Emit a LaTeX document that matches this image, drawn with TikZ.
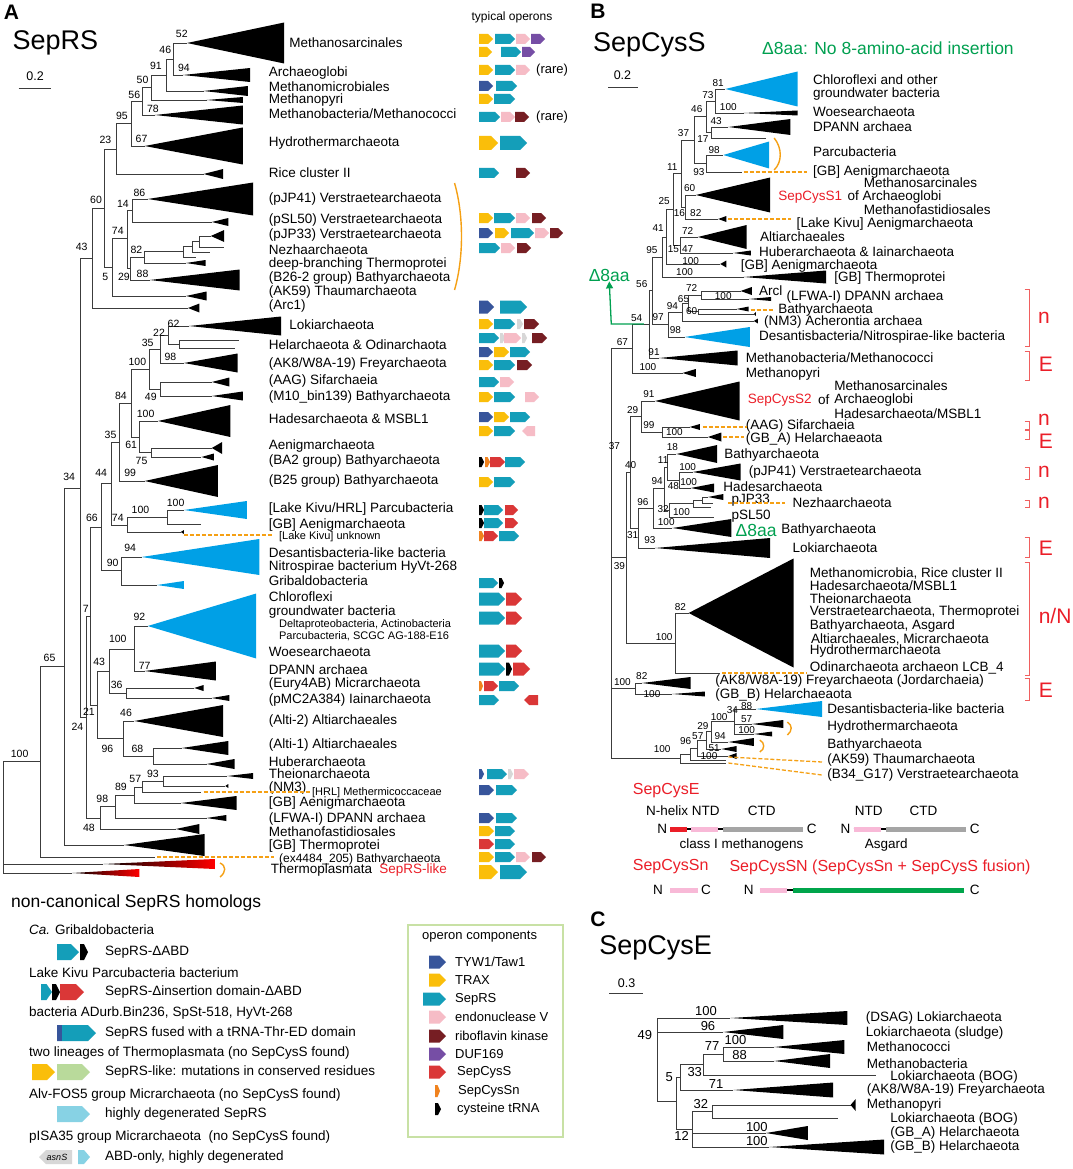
\documentclass[tikz,border=0pt]{standalone}
\usepackage{fontspec}
\setmainfont{Liberation Sans}
\usetikzlibrary{arrows.meta}

\definecolor{treeline}{RGB}{60,60,60}
\definecolor{cladeblue}{RGB}{0,160,230}
\definecolor{tyw}{RGB}{55,85,155}
\definecolor{trax}{RGB}{250,190,10}
\definecolor{seprs}{RGB}{20,158,185}
\definecolor{endo}{RGB}{246,188,198}
\definecolor{ribo}{RGB}{118,30,35}
\definecolor{duf}{RGB}{118,78,165}
\definecolor{sepcyss}{RGB}{218,55,55}
\definecolor{sepcyssn}{RGB}{240,130,30}
\definecolor{trna}{RGB}{0,0,0}
\definecolor{gengray}{RGB}{215,215,215}
\definecolor{ltteal}{RGB}{135,210,228}
\definecolor{ltgreen}{RGB}{185,218,155}
\definecolor{orangeline}{RGB}{245,160,20}
\definecolor{labred}{RGB}{235,30,40}
\definecolor{brred}{RGB}{240,95,95}
\definecolor{labgreen}{RGB}{0,160,80}
\definecolor{boxgreen}{RGB}{200,225,165}
\definecolor{domgray}{RGB}{165,165,165}
\definecolor{dompink}{RGB}{248,185,215}
\definecolor{domgreen}{RGB}{0,165,75}

% gene arrows: colour, x, y, length, half height
\newcommand\gene[5]{%
  \pgfmathsetmacro\gtip{min(#5,#4*0.5)}%
  \fill[#1] (#2,#3-#5) -- ({#2+#4-\gtip},#3-#5) -- ({#2+#4},#3)
    -- ({#2+#4-\gtip},#3+#5) -- (#2,#3+#5) -- cycle;}
\newcommand\rgene[5]{%
  \pgfmathsetmacro\gtip{min(#5,#4*0.5)}%
  \fill[#1] ({#2+#4},#3-#5) -- ({#2+\gtip},#3-#5) -- (#2,#3)
    -- ({#2+\gtip},#3+#5) -- ({#2+#4},#3+#5) -- cycle;}
\newcommand\oprow[3]{\foreach \gc/\gx/\gw in {#3} {\gene{\gc}{\gx}{#1}{\gw}{#2}}}

\tikzset{
  branch/.style={draw=treeline, line width=0.9pt},
  leaflbl/.style={anchor=west, inner sep=0pt, font=\fontsize{13.5}{15}\selectfont},
  smalllbl/.style={anchor=west, inner sep=0pt, font=\fontsize{11}{12}\selectfont},
  boota/.style={inner sep=0pt, font=\fontsize{10.5}{11}\selectfont},
  bootb/.style={inner sep=0pt, font=\fontsize{10}{11}\selectfont},
  bootc/.style={inner sep=0pt, font=\fontsize{13}{14}\selectfont},
  bigtitle/.style={anchor=west, inner sep=0pt, font=\fontsize{27}{30}\selectfont},
  panelltr/.style={inner sep=0pt, font=\fontsize{21}{22}\selectfont\bfseries},
  orangedash/.style={draw=orangeline, line width=1.3pt, dash pattern=on 4pt off 2pt},
  orangearc/.style={draw=orangeline, line width=1.4pt},
  redbrk/.style={draw=brred, line width=1pt},
  redlet/.style={text=labred, inner sep=0pt, font=\fontsize{21}{22}\selectfont},
  redhead/.style={anchor=west, text=labred, inner sep=0pt, font=\fontsize{16}{17}\selectfont},
  dombar/.style={line width=5pt},
}

\begin{document}
\begin{tikzpicture}[x=1pt, y=-1pt]
\useasboundingbox (0,0) rectangle (1072,1169);
\fill[white] (0,0) rectangle (1072,1169);

%%%%%%%%%%%%%%%% panel A: SepRS tree
\begin{scope}[xscale=1.033]
\node[panelltr] (pa) at (11,12) {A};
\node[bigtitle] (ta) at (12,43) {SepRS};
\node[inner sep=0pt, font=\fontsize{12.5}{13}\selectfont] (sa) at (34,76) {0.2};
\draw[line width=1pt, treeline] (18,89) -- (49,89);

\foreach \nm/\x/\y in {aRoot/3/817, a100/39/761, a65/62/666, a34/78/488, a43/89/258,
  a60/101/208, a23/113/149, a95/127/123, a56/138/101, a50/147/87, a91/161/75, a46/168/59,
  aMsar/181/43, aArch/177/75, aMmic/197/91, aMpyri/200/100, aMbac/150/115, aHydro/140/146,
  aRice/197/174, a5/109/267, a74/123/238, a14/128/210, aPJ41/143/199, aPSL/205/222,
  a29/126/268, a82/140/257, aN1/178/251, aN2/186/246, aN3/193/241, aPJ33/204/236,
  aN3l/217/247, aN2l/203/252, aN1l/190/257, aDeep/180/263, aB26/145/280, aAK59/180/296,
  aArc1/182/308, a21/84/717, a7/88/616, a66/98/527, a44/108/483, a35b/116/442, a84/127/403,
  a100c/145/369, aL35/155/349, aL22/163/335, aLoki/183/326, aHO/174/344, aHOa/231/340,
  aHOb/227/348, aFrey/178/363, a49/155/389, aSif/205/382, aM10/205/396, aH/135/437,
  aHades/153/421, a61/147/452, aAenig/205/448, aBA2/195/457, aB25/140/481, a74b/123/525,
  a100a/162/517, aLKH/178/510, aGBA/195/524, aLK/175/532, a90/118/570, aDes/137/557,
  aGrib/152/585, a94x/94/705, a43b/106/671, a100b/130/649, aChl/143/626, aDP/140/671,
  a36/122/693, aEury/188/688, aPMC/205/698, a96/119/738, aAlti2/130/721, a68/149/756,
  aAlti1/176/748, aHuber/200/764, a48/97/818, a98/112/806, a89/130/795, a57/138/787,
  a93/158/781, aTheio/220/776, aNM3/218/786, aHRL/195/792, aGBAe/175/803, aLFWA/200/818,
  aMfast/170/829, aGBT/120/845, aEx/150/857, aRed1/100/864, aRed2/70/873}
  \coordinate (\nm) at (\x,\y);

\foreach \p/\c in {aRoot/a100, aRoot/aRed1, aRoot/aRed2, a100/a65, a100/aEx, a65/a34,
  a65/aGBT, a34/a43, a34/a21, a43/a60, a43/aArc1, a60/a23, a60/a5, a23/a95, a23/aRice,
  a95/a56, a95/aHydro, a56/a50, a56/aMbac, a50/a91, a50/aMpyri, a91/a46, a91/aMmic,
  a46/aMsar, a46/aArch, a5/a74, a5/aAK59, a74/a14, a74/a29, a14/aPJ41, a14/aPSL,
  a29/a82, a29/aB26, a82/aN1, a82/aDeep, aN1/aN2, aN1/aN1l, aN2/aN3, aN2/aN2l,
  aN3/aPJ33, aN3/aN3l, a21/a7, a21/a48, a7/a66, a7/a94x, a66/a44, a66/a90, a44/a35b,
  a44/a74b, a35b/a84, a35b/aB25, a84/a100c, a84/aH, a100c/aL35, a100c/a49, aL35/aL22,
  aL35/aFrey, aL22/aLoki, aL22/aHO, aHO/aHOa, aHO/aHOb, a49/aSif, a49/aM10, aH/aHades,
  aH/a61, a61/aAenig, a61/aBA2, a74b/a100a, a74b/aLK, a100a/aLKH, a100a/aGBA, a90/aDes,
  a90/aGrib, a94x/a43b, a94x/a96, a43b/a100b, a43b/a36, a100b/aChl, a100b/aDP,
  a36/aEury, a36/aPMC, a96/aAlti2, a96/a68, a68/aAlti1, a68/aHuber, a48/a98, a48/aMfast,
  a98/a89, a98/aLFWA, a89/a57, a89/aGBAe, a57/a93, a57/aHRL, a93/aTheio, a93/aNM3}
  \draw[branch] (\p) |- (\c);

% collapsed clades
\foreach \nm/\l/\h in {aMsar/94/20.5, aArch/65/7, aMmic/43/5, aMpyri/35/3, aMbac/85/9.5,
  aHydro/95/18.5, aRice/19/5, aPJ41/102/16.5, aPSL/16/4, aPJ33/13/6, aB26/87/10.5,
  aAK59/20/4.5, aArc1/11/4.5, aDeep/19/3, aLoki/89/9.5, aFrey/52/9.5, aSif/17/4.5,
  aM10/30/4.5, aHades/70/16, aAenig/10/6, aBA2/12/3.5, aB25/71/16, aLK/3/2, aDP/69/9.5,
  aEury/9/3, aPMC/17/3, aAlti2/86/16, aAlti1/45/7, aHuber/27/5, aTheio/25/3, aNM3/3/2,
  aGBAe/54/7, aLFWA/19/3, aMfast/23/5, aGBT/78/11}
  \fill (\nm) -- ++(\l,-\h) -- ++(0,2*\h) -- cycle;
\foreach \nm/\l/\h in {aLKH/61/9, aDes/114/18, aGrib/26/4, aChl/105/32.5}
  \fill[cladeblue] (\nm) -- ++(\l,-\h) -- ++(0,2*\h) -- cycle;
\shade[left color=black, right color=red] (aRed1) -- ++(108,-5) -- ++(0,10) -- cycle;
\shade[left color=black, right color=red] (aRed2) -- ++(65,-4) -- ++(0,8) -- cycle;

\foreach \bx/\by/\bt [count=\i] in {176/34/52, 160/50/46, 178/68/94, 151/66/91, 138/80/50,
  130/95/56, 148/109/78, 118/116/95, 137/139/67, 102/140/23, 93/200/60, 135/193/86,
  119/204/14, 114/231/74, 132/250/82, 102/277/5, 120/277/29, 138/274/88, 79/247/43,
  67/477/34, 98/473/44, 107/435/35, 117/396/84, 133/362/100, 143/343/35, 154/333/22,
  168/324/62, 165/357/98, 146/397/49, 141/414/100, 127/445/61, 137/461/75, 126/473/99,
  89/518/66, 114/518/74, 136/510/100, 170/503/100, 126/548/94, 109/563/90, 83/609/7,
  135/617/92, 114/639/100, 96/662/43, 140/666/77, 113/685/36, 86/712/21, 122/713/46,
  75/727/24, 104/749/96, 133/749/68, 131/779/57, 148/774/93, 117/787/89, 99/799/98,
  86/828/48, 48/658/65, 19/754/100}
  \node[boota] (ba\i) at (\bx,\by) {\bt};

\foreach \lx/\ly/\lt [count=\i] in {280/43/{Methanosarcinales}, 260/73/{Archaeoglobi},
  260/87/{Methanomicrobiales}, 260/100/{Methanopyri}, 260/114/{Methanobacteria/Methanococci},
  260/143/{Hydrothermarchaeota}, 260/173/{Rice cluster II}, 260/199/{(pJP41) Verstraetearchaeota},
  260/220/{(pSL50) Verstraetearchaeota}, 260/235/{(pJP33) Verstraetearchaeota},
  260/250/{Nezhaarchaeota}, 260/264/{deep-branching Thermoprotei},
  260/278/{(B26-2 group) Bathyarchaeota}, 260/292/{(AK59) Thaumarchaeota}, 260/306/{(Arc1)},
  280/325/{Lokiarchaeota}, 260/345/{Helarchaeota \& Odinarchaota},
  260/364/{(AK8/W8A-19) Freyarchaeota}, 260/381/{(AAG) Sifarchaeia},
  260/397/{(M10\_bin139) Bathyarchaeota}, 260/419/{Hadesarchaeota \& MSBL1},
  260/446/{Aenigmarchaeota}, 260/461/{(BA2 group) Bathyarchaeota},
  260/481/{(B25 group) Bathyarchaeota}, 260/509/{[Lake Kivu/HRL] Parcubacteria},
  260/525/{[GB] Aenigmarchaeota}, 260/553/{Desantisbacteria-like bacteria},
  260/567/{Nitrospirae bacterium HyVt-268}, 260/581/{Gribaldobacteria}, 260/597/{Chloroflexi},
  260/612/{groundwater bacteria}, 260/652/{Woesearchaeota}, 260/670/{DPANN archaea},
  260/684/{(Eury4AB) Micrarchaeota}, 260/700/{(pMC2A384) Iainarchaeota},
  260/721/{(Alti-2) Altiarchaeales}, 260/745/{(Alti-1) Altiarchaeales},
  260/762/{Huberarchaeota}, 260/774/{Theionarchaeota}, 260/788/{(NM3)},
  260/803/{[GB] Aenigmarchaeota}, 260/819/{(LFWA-I) DPANN archaea},
  260/832/{Methanofastidiosales}, 260/846/{[GB] Thermoprotei}, 262/870/{Thermoplasmata}}
  \node[leaflbl] (la\i) at (\lx,\ly) {\lt};
\foreach \lx/\ly/\lt [count=\i] in {270/537/{[Lake Kivu] unknown},
  270/625/{Deltaproteobacteria, Actinobacteria}, 270/636/{Parcubacteria, SCGC AG-188-E16},
  302/793/{[HRL] Methermicoccaceae}}
  \node[smalllbl] (ls\i) at (\lx,\ly) {\lt};
\node[smalllbl, font=\fontsize{12}{13}\selectfont] (lex) at (270,859) {(ex4484\_205) Bathyarchaeota};
\node[leaflbl, text=labred] (lsl) at (367,870) {SepRS-like};

\draw[orangedash] (178,535) -- (265,535);
\draw[orangedash] (197,792) -- (300,792);
\draw[orangedash] (152,857) -- (265,857);
\draw[orangearc] (440,183) .. controls (449,215) and (449,258) .. (440,290);
\draw[orangearc] (213,863) .. controls (219,866) and (219,872) .. (213,877);
\end{scope}

%%%%%%%%%%%%%%%% typical operons
\node[inner sep=0pt, font=\fontsize{12}{13}\selectfont] (top) at (512,17) {typical operons};
\oprow{39}{5}{trax/479/14, seprs/495/20, endo/516/14, duf/531/14}
\oprow{52}{5}{trax/479/13, seprs/501/20, duf/522/13}
\oprow{70}{5}{trax/479/14, seprs/495/20, endo/516/14}
\oprow{86}{5}{tyw/479/14, seprs/496/21}
\oprow{99}{5}{trax/479/14, seprs/494/21}
\oprow{117}{5}{seprs/479/21, endo/501/14, ribo/515/14}
\oprow{143}{7}{trax/479/19, seprs/500/27}
\oprow{173}{5}{seprs/479/20, ribo/516/14}
\oprow{218}{5}{trax/479/14, seprs/494/21, endo/516/14, ribo/532/14}
\oprow{233}{5}{tyw/479/14, trax/495/14, seprs/511/23, endo/535/14, ribo/550/13}
\oprow{248}{5}{seprs/479/21, endo/501/14, ribo/517/14}
\oprow{307}{6.5}{tyw/479/15, seprs/500/27}
\oprow{324}{5}{trax/479/14, seprs/494/21, gengray/517/6, ribo/524/15}
\oprow{338}{5}{seprs/479/20, gengray/500/5, endo/504/17, gengray/522/5, ribo/532/15}
\oprow{352}{5}{tyw/479/14, trax/494/15, seprs/510/20}
\oprow{365}{5}{trax/479/14, seprs/494/21, ribo/517/15}
\oprow{382}{5}{seprs/479/20, endo/500/14}
\oprow{397}{5}{trax/479/14, seprs/494/21, endo/525/14}
\oprow{417}{5}{tyw/479/14, trax/494/15, seprs/510/20}
\oprow{431}{5}{trax/479/14, seprs/494/21}
\rgene{endo}{522}{431}{13}{5}
\oprow{462}{5}{trna/479/5, sepcyssn/485/5, sepcyss/490/15, seprs/505/20}
\oprow{482}{5}{trax/479/14, seprs/494/21}
\oprow{510}{5}{trna/479/5, seprs/484/19, sepcyss/505/13}
\oprow{523}{5}{trna/479/5, seprs/484/19, sepcyss/505/13}
\oprow{536}{5}{sepcyssn/479/5, sepcyss/484/14, seprs/499/20}
\oprow{583}{5}{seprs/479/19, trna/499/5}
\oprow{599}{6.5}{seprs/479/26, sepcyss/506/16}
\oprow{618}{6.5}{seprs/479/26, sepcyss/506/16}
\oprow{651}{6.5}{seprs/479/26, sepcyss/506/16}
\oprow{669}{6.5}{seprs/479/26, trna/506/6, sepcyss/513/17}
\oprow{686}{5}{sepcyssn/479/4, sepcyss/484/14, seprs/499/20}
\oprow{700}{5}{seprs/479/20}
\rgene{sepcyss}{524}{700}{14}{5}
\oprow{774}{5}{tyw/479/5, seprs/487/20, gengray/508/5, endo/514/15}
\oprow{790}{5}{tyw/479/15, seprs/496/21}
\oprow{818}{5}{tyw/479/15, seprs/496/21}
\oprow{831}{5}{trax/479/15, seprs/495/20}
\oprow{844}{5}{sepcyss/479/15, seprs/495/20}
\oprow{857}{5}{trax/479/15, seprs/495/20, endo/516/14, ribo/532/14}
\oprow{872}{7}{trax/479/19, seprs/500/27}
\node[leaflbl, font=\fontsize{13}{14}\selectfont] (rare1) at (536,70) {(rare)};
\node[leaflbl, font=\fontsize{13}{14}\selectfont] (rare2) at (536,117) {(rare)};

%%%%%%%%%%%%%%%% non-canonical homologs
\node[anchor=west, inner sep=0pt, font=\fontsize{17.5}{19}\selectfont] (nch) at (11,903) {non-canonical SepRS homologs};
\foreach \lx/\ly/\lt [count=\i] in {29/930/{{\itshape Ca.} Gribaldobacteria}, 105/952/{SepRS-ΔABD},
  29/973/{Lake Kivu Parcubacteria bacterium}, 105/992/{SepRS-Δinsertion domain-ΔABD},
  29/1013/{bacteria ADurb.Bin236, SpSt-518, HyVt-268}, 105/1033/{SepRS fused with a tRNA-Thr-ED domain},
  29/1053/{two lineages of Thermoplasmata (no SepCysS found)},
  105/1072/{SepRS-like: mutations in conserved residues},
  29/1095/{Alv-FOS5 group Micrarchaeota (no SepCysS found)}, 105/1114/{highly degenerated SepRS},
  29/1137/{pISA35 group Micrarchaeota\ \ (no SepCysS found)}, 105/1157/{ABD-only, highly degenerated}}
  \node[leaflbl] (lg\i) at (\lx,\ly) {\lt};
\oprow{952}{8}{seprs/57/22, trna/80/8}
\oprow{992}{8}{seprs/41/11, trna/52/8, sepcyss/60/24}
\oprow{1033}{8}{seprs/57/39}
\fill[tyw] (57,1025) rectangle (62,1041);
\oprow{1072}{8}{trax/32/23, ltgreen/57/33}
\oprow{1114}{8}{ltteal/57/33}
\rgene{gengray}{39}{1157}{33}{7}
\node[inner sep=0pt, font=\fontsize{9}{10}\selectfont\itshape] (asn) at (57,1157) {asnS};
\gene{ltteal}{78}{1157}{12}{7}

%%%%%%%%%%%%%%%% operon components
\draw[boxgreen, line width=1.5pt] (408,925) rectangle (563,1137);
\node[leaflbl, font=\fontsize{13}{14}\selectfont] (oc) at (422,937) {operon components};
\oprow{962}{6.5}{tyw/429/17}
\oprow{980}{6.5}{trax/429/17}
\oprow{999}{6.5}{seprs/423/23}
\oprow{1017}{6.5}{endo/429/17}
\oprow{1036}{6.5}{ribo/429/17}
\oprow{1054}{6.5}{duf/429/17}
\oprow{1072}{6.5}{sepcyss/429/17}
\oprow{1091}{6}{sepcyssn/435/5}
\oprow{1109}{6}{trna/435/6}
\foreach \lx/\ly/\lt [count=\i] in {455/962/{TYW1/Taw1}, 455/980/{TRAX}, 455/999/{SepRS},
  455/1017/{endonuclease V}, 455/1036/{riboflavin kinase}, 455/1054/{DUF169},
  457/1072/{SepCysS}, 458/1091/{SepCysSn}, 457/1109/{cysteine tRNA}}
  \node[leaflbl, font=\fontsize{13}{14}\selectfont] (lo\i) at (\lx,\ly) {\lt};

%%%%%%%%%%%%%%%% panels B and C
\begin{scope}[shift={(540,0)}, xscale=1.018]
\node[panelltr] (pb) at (57,11) {B};
\node[bigtitle] (tb) at (52,45) {SepCysS};
\node[anchor=west, inner sep=0pt, text=labgreen, font=\fontsize{17.5}{19}\selectfont] (d8t) at (218,48) {Δ8aa: No 8-amino-acid insertion};
\node[inner sep=0pt, font=\fontsize{12.5}{13}\selectfont] (sb) at (81,75) {0.2};
\draw[line width=1pt, treeline] (67,88) -- (96,88);

\foreach \nm/\x/\y in {bRoot/70/552, bN67/91/348, bN54/107/324, bN56/110/290, bN95/120/257,
  bN41/124/237, bN25/131/209, bN11/139/173, bN37/152/140, bN46/163/116, bN73/172/101,
  bN17/168/132, bN93/163/163, bN16/143/207, bN47/138/245, bN97/126/324, bN94/140/312,
  bN65/146/303, bNArc/159/295, bNBa/156/311, bN39/85/557, bN40/89/472, bN29/100/416,
  bN100a/120/432, bN31/97/528, bN96/111/508, bN94l/122/488, bN11l/125/467, bN100h/137/480,
  bN32/127/510, bNPJb/151/503, bNPJa/160/500, bN100b/133/643, bN100f/94/688,
  bNd100/138/758, bN96d/148/754, bN57d/155/748, bN29d/163/740, bN100y/168/731, bN34/191/721,
  bChl/182/89, bWoe/200/113, bDP/185/127, bL17/222/138, bParc/180/155, bGBl/198/172,
  bS1/153/195, bLK/175/219, bAlti/155/237, bHub/190/253, bGBAe/177/264, bGBT/200/277,
  bArc/197/291, bLF/205/299, bBa1/193/309, bBa2/210/314, bNM3/210/321, bDes/142/337,
  bMbac/117/358, bMpyri/140/373, bS2/113/401, bAAG/147/427, bGBA/165/437, bBat/134/454,
  bPJ41/150/472, bHad/148/488, bPJ33/165/497, bPJl1/170/503, bPJl2/168/507, bPSL/171/517,
  bD8/130/528, bLoki/113/548, bBig/146/613, bOdin/177/673, bFrey/100/683, bGBB/130/694,
  bDesL/212/709, bHy57/208/724, bHy100/210/734, bBa94/185/742, bBa51/178/749,
  bBa100/185/756, bAK59/183/760, bB34/183/763}
  \coordinate (\nm) at (\x,\y);

\foreach \p/\c in {bRoot/bN67, bRoot/bN39, bRoot/bN100f, bRoot/bNd100, bN67/bN54,
  bN67/bMpyri, bN54/bN56, bN54/bMbac, bN56/bN95, bN56/bN97, bN95/bN41, bN95/bGBT,
  bN41/bN25, bN41/bGBAe, bN25/bN11, bN25/bN47, bN11/bN37, bN11/bN16, bN37/bN46,
  bN37/bN93, bN46/bN73, bN46/bN17, bN73/bChl, bN73/bWoe, bN17/bDP, bN17/bL17,
  bN93/bParc, bN93/bGBl, bN16/bS1, bN16/bLK, bN47/bAlti, bN47/bHub, bN97/bN94,
  bN97/bDes, bN94/bN65, bN94/bNM3, bN65/bNArc, bN65/bNBa, bNArc/bArc, bNArc/bLF,
  bNBa/bBa1, bNBa/bBa2, bN39/bN40, bN39/bN100b, bN40/bN29, bN40/bN31, bN29/bS2,
  bN29/bN100a, bN100a/bAAG, bN100a/bGBA, bN31/bN96, bN31/bLoki, bN96/bN94l, bN96/bD8,
  bN94l/bN11l, bN94l/bN32, bN11l/bBat, bN11l/bN100h, bN100h/bPJ41, bN100h/bHad,
  bN32/bNPJb, bN32/bPSL, bNPJb/bNPJa, bNPJb/bPJl2, bNPJa/bPJ33, bNPJa/bPJl1,
  bN100b/bBig, bN100b/bOdin, bN100f/bFrey, bN100f/bGBB, bNd100/bN96d, bNd100/bB34,
  bN96d/bN57d, bN96d/bAK59, bN57d/bN29d, bN57d/bBa100, bN29d/bN100y, bN29d/bBa51,
  bN100y/bN34, bN100y/bBa94, bN34/bDesL, bN34/bHy57, bN34/bHy100}
  \draw[branch] (\p) |- (\c);

\foreach \nm/\l/\h in {bWoe/53/2.5, bDP/61/8, bS1/73/17.5, bLK/8/3, bAlti/48/12, bHub/17/2.5,
  bGBAe/6/3.5, bGBT/81/6.5, bArc/11/4, bLF/22/2, bBa1/12/2.5, bBa2/2/2, bNM3/4/2.5,
  bMbac/77/7.5, bMpyri/13/4, bS2/83/19.5, bAAG/10/3, bGBA/13/4.5, bBat/40/9, bPJ41/47/8.5,
  bHad/23/4.5, bPJ33/15/3, bD8/58/9, bLoki/113/10, bBig/103/54.5, bFrey/48/6, bGBB/32/2.5,
  bHy57/31/4, bHy100/18/2.5, bBa94/25/4, bBa51/15/3, bBa100/8/3}
  \fill (\nm) -- ++(\l,-\h) -- ++(0,2*\h) -- cycle;
\foreach \nm/\l/\h in {bChl/71/17.5, bParc/45/13.5, bDes/64/10, bDesL/65/8}
  \fill[cladeblue] (\nm) -- ++(\l,-\h) -- ++(0,2*\h) -- cycle;

\foreach \bx/\by/\bt [count=\i] in {175/83/81, 165/95/73, 185/107/100, 154/109/46, 173/121/43,
  141/133/37, 160/139/17, 171/150/98, 130/167/11, 156/172/93, 147/188/60, 122/201/25,
  137/213/16, 153/213/82, 116/228/41, 145/231/72, 131/249/15, 145/249/47, 110/250/95,
  148/261/100, 142/272/100, 100/284/56, 149/288/72, 180/296/100, 141/299/65, 130/306/94,
  149/311/60, 116/317/97, 133/330/98, 95/318/54, 81/342/67, 112/352/91, 106/367/100,
  107/394/91, 91/410/29, 107/425/99, 132/432/100, 73/446/37, 130/447/18, 89/465/40,
  121/460/11, 145/467/100, 115/481/94, 131/486/48, 146/482/100, 101/502/96, 121/509/32,
  139/512/100, 124/522/100, 91/535/31, 108/540/93, 78/566/39, 138/607/82, 122/637/100,
  100/676/82, 81/682/100, 110/694/100, 189/710/34, 203/706/88, 176/717/100, 203/719/57,
  203/730/100, 160/726/29, 177/736/94, 155/736/57, 143/741/96, 171/748/51, 166/756/100,
  120/749/100}
  \node[bootb] (bb\i) at (\bx,\by) {\bt};

\foreach \lx/\ly/\lt [count=\i] in {268/80/{Chloroflexi and other}, 268/94/{groundwater bacteria},
  268/112/{Woesearchaeota}, 268/127/{DPANN archaea}, 268/152/{Parcubacteria},
  268/172/{[GB] Aenigmarchaeota}, 318/183/{Methanosarcinales}, 302/197/{of Archaeoglobi},
  318/210/{Methanofastidiosales}, 252/224/{[Lake Kivu] Aenigmarchaeota},
  216/237/{Altiarchaeales}, 215/252/{Huberarchaeota \& Iainarchaeota},
  197/266/{[GB] Aenigmarchaeota}, 289/278/{[GB] Thermoprotei}, 215/291/{Arcl},
  242/297/{(LFWA-I) DPANN archaea}, 234/310/{Bathyarchaeota}, 220/322/{(NM3) Acherontia archaea},
  215/337/{Desantisbacteria/Nitrospirae-like bacteria}, 202/358/{Methanobacteria/Methanococci},
  202/374/{Methanopyri}, 289/386/{Methanosarcinales}, 273/400/{of}, 289/400/{Archaeoglobi},
  289/414/{Hadesarchaeota/MSBL1}, 202/426/{(AAG) Sifarchaeia}, 202/439/{(GB\_A) Helarchaeaota},
  181/455/{Bathyarchaeota}, 205/472/{(pJP41) Verstraetearchaeota}, 180/487/{Hadesarchaeota},
  188/500/{pJP33}, 248/503/{Nezhaarchaeota}, 188/516/{pSL50}, 237/530/{Bathyarchaeota},
  248/548/{Lokiarchaeota}, 265/573/{Methanomicrobia, Rice cluster II},
  265/586/{Hadesarchaeota/MSBL1}, 265/599/{Theionarchaeota},
  265/612/{Verstraetearchaeota, Thermoprotei}, 265/626/{Bathyarchaeota, Asgard},
  266/639/{Altiarchaeales, Micrarchaeota}, 265/651/{Hydrothermarchaeota},
  265/668/{Odinarchaeota archaeon LCB\_4}, 172/681/{(AK8/W8A-19) Freyarchaeota (Jordarchaeia)},
  172/695/{(GB\_B) Helarchaeaota}, 282/709/{Desantisbacteria-like bacteria},
  282/727/{Hydrothermarchaeota}, 282/745/{Bathyarchaeota}, 282/760/{(AK59) Thaumarchaeota},
  282/775/{(B34\_G17) Verstraetearchaeota}}
  \node[leaflbl] (lb\i) at (\lx,\ly) {\lt};
\node[leaflbl, text=labred] (s1) at (234,197) {SepCysS1};
\node[leaflbl, text=labred] (s2) at (204,400) {SepCysS2};
\node[anchor=west, inner sep=0pt, text=labgreen, font=\fontsize{17.5}{19}\selectfont] (d8b) at (192,530) {Δ8aa};
\node[inner sep=0pt, text=labgreen, font=\fontsize{17.5}{19}\selectfont] (d8a) at (68,275) {Δ8aa};
\draw[labgreen, line width=1.3pt, -{Triangle[length=7pt,width=7pt]}] (102,324) -- (70,324) -- (d8a.south);

\draw[orangedash] (200,172) -- (262,172);
\draw[orangedash] (185,219) -- (247,219);
\draw[orangedash] (207,310) -- (230,310);
\draw[orangedash] (160,427) -- (203,427);
\draw[orangedash] (180,437) -- (200,437);
\draw[orangedash] (185,503) -- (241,503);
\draw[orangedash] (179,673) -- (262,673);
\draw[orangedash] (185,757) -- (277,762);
\draw[orangedash] (185,763) -- (277,775);
\draw[orangearc] (230,138) .. controls (238,148) and (238,162) .. (230,170);
\draw[orangearc] (243,722) .. controls (248,725) and (248,731) .. (243,735);
\draw[orangearc] (216,740) .. controls (221,743) and (221,749) .. (216,752);

% n / E brackets
\foreach \ya/\yb/\lt/\ly/\lx [count=\i] in {289/346/n/318/495, 351/380/E/364/497,
  421/429/n/420/495, 430/439/E/441/497, 467/479/n/472/495, 500/507/n/503/495,
  537/557/E/548/497, 562/675/{n/N}/616/506, 678/700/E/690/497} {
  \draw[redbrk] (476,\ya) -- (481,\ya) -- (481,\yb) -- (476,\yb);
  \node[redlet] (rl\i) at (\lx,\ly) {\lt};
}

% SepCysE / SepCysSn domain sketches
\node[redhead] (hE) at (91,791) {SepCysE};
\node[leaflbl] (d1) at (104,811) {N-helix NTD};
\node[leaflbl] (d2) at (204,811) {CTD};
\node[leaflbl] (d3) at (309,811) {NTD};
\node[leaflbl] (d4) at (363,811) {CTD};
\draw[line width=1.2pt] (128,829) -- (258,829);
\draw[dombar, labred] (128,829) -- (144,829);
\draw[dombar, dompink] (148,829) -- (175,829);
\draw[dombar, domgray] (180,829) -- (258,829);
\node[inner sep=0pt, font=\fontsize{13.5}{15}\selectfont] (n1) at (120,829) {N};
\node[inner sep=0pt, font=\fontsize{13.5}{15}\selectfont] (c1) at (267,829) {C};
\draw[line width=1.2pt] (308,829) -- (418,829);
\draw[dombar, dompink] (308,829) -- (335,829);
\draw[dombar, domgray] (340,829) -- (418,829);
\node[inner sep=0pt, font=\fontsize{13.5}{15}\selectfont] (n2) at (300,829) {N};
\node[inner sep=0pt, font=\fontsize{13.5}{15}\selectfont] (c2) at (427,829) {C};
\node[leaflbl] (d5) at (137,845) {class I methanogens};
\node[leaflbl] (d6) at (319,845) {Asgard};
\node[redhead] (hSn) at (91,867) {SepCysSn};
\node[redhead] (hSN) at (186,867) {SepCysSN (SepCysSn + SepCysS fusion)};
\draw[dombar, dompink] (128,890) -- (155,890);
\node[inner sep=0pt, font=\fontsize{13.5}{15}\selectfont] (n3) at (116,890) {N};
\node[inner sep=0pt, font=\fontsize{13.5}{15}\selectfont] (c3) at (163,890) {C};
\draw[line width=1.2pt] (216,890) -- (250,890);
\draw[dombar, dompink] (216,890) -- (243,890);
\draw[dombar, domgreen] (249,890) -- (416,890);
\node[inner sep=0pt, font=\fontsize{13.5}{15}\selectfont] (n4) at (205,890) {N};
\node[inner sep=0pt, font=\fontsize{13.5}{15}\selectfont] (c4) at (427,890) {C};

%%%%%%%%%%%%%%%% panel C: SepCysE tree
\node[panelltr] (pc) at (57,919) {C};
\node[bigtitle] (tc) at (58,948) {SepCysE};
\node[inner sep=0pt, font=\fontsize{12.5}{13}\selectfont] (sc) at (85,983) {0.3};
\draw[line width=1pt, treeline] (68,993) -- (101,993);

\foreach \nm/\x/\y in {cRoot/115/1060, cMid/134/1101, cN5/138/1077, cN33/161/1064,
  cN77/180/1054, cN12/150/1129, cN32/169/1111, cDSAG/187/1018, cSl/180/1032,
  cMco/230/1047, cMba/230/1061, cBOG1/330/1075, cFrey/190/1090, cMpy/305/1105,
  cBOG2/293/1118, cGBA/222/1133, cGBB/225/1147}
  \coordinate (\nm) at (\x,\y);
\foreach \p/\c in {cRoot/cDSAG, cRoot/cSl, cRoot/cMid, cMid/cN5, cMid/cN12, cN5/cN33,
  cN5/cFrey, cN33/cN77, cN33/cBOG1, cN77/cMco, cN77/cMba, cN12/cN32, cN12/cGBA,
  cN12/cGBB, cN32/cMpy, cN32/cBOG2}
  \draw[branch] (\p) |- (\c);
\foreach \nm/\l/\h in {cDSAG/115/7, cSl/59/7, cMco/69/7, cMba/55/7, cFrey/98/7.5,
  cGBA/41/7, cGBB/113/7.5}
  \fill (\nm) -- ++(\l,-\h) -- ++(0,2*\h) -- cycle;
\fill (cMpy) -- ++(5,-6) -- ++(0,12) -- cycle;

\foreach \bx/\by/\bt [count=\i] in {163/1011/100, 165/1026/96, 103/1035/49, 192/1040/100,
  169/1046/77, 196/1055/88, 152/1072/33, 127/1077/5, 173/1084/71, 158/1104/32,
  213/1127/100, 139/1136/12, 213/1141/100}
  \node[bootc] (bc\i) at (\bx,\by) {\bt};
\foreach \lx/\ly/\lt [count=\i] in {320/1018/{(DSAG) Lokiarchaeota}, 320/1033/{Lokiarchaeota (sludge)},
  321/1047/{Methanococci}, 321/1064/{Methanobacteria}, 344/1077/{Lokiarchaeota (BOG)},
  321/1090/{(AK8/W8A-19) Freyarchaeota}, 321/1105/{Methanopyri}, 344/1119/{Lokiarchaeota (BOG)},
  344/1133/{(GB\_A) Helarchaeota}, 344/1147/{(GB\_B) Helarchaeota}}
  \node[leaflbl] (lc\i) at (\lx,\ly) {\lt};
\end{scope}
\end{tikzpicture}
\end{document}
